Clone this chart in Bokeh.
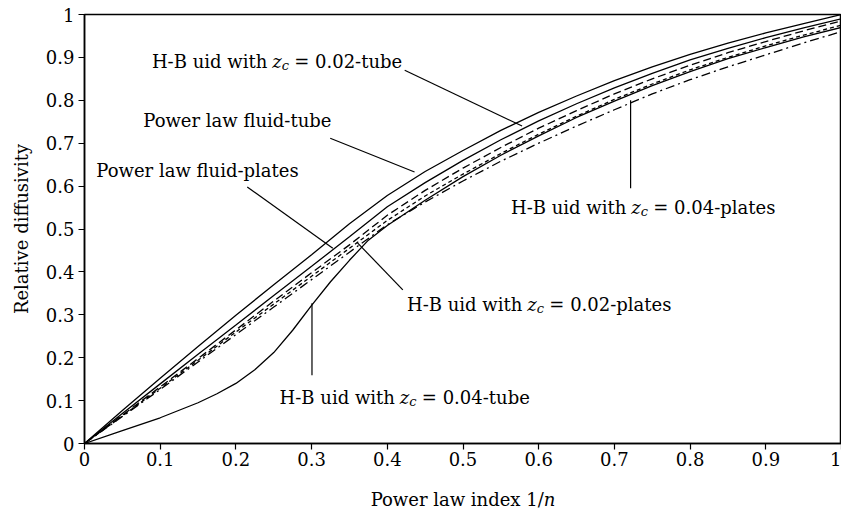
import math
from bokeh.plotting import figure
from bokeh.models import Range1d, FixedTicker, Label
from bokeh.embed import file_html
from bokeh.resources import INLINE

# ---------------- data ----------------
power_index = [0, .05, .1, .15, .2, .25, .3, .35, .4, .45, .5, .55, .6, .65, .7, .75, .8, .85, .9, .95, 1.0]

pl_tube = [0, .077, .152, .226, .299, .370, .440, .512, .578, .634, .683, .730, .772, .810, .846, .878, .907, .933, .957, .979, 1.0]
hb02_tube = [0, .070, .139, .208, .276, .345, .413, .482, .552, .608, .660, .708, .752, .792, .829, .863, .894, .921, .946, .969, .990]
pl_plates = [0, .066, .132, .198, .265, .332, .398, .463, .532, .590, .642, .690, .735, .776, .815, .850, .882, .911, .937, .962, .985]
hb02_plates = [0, .064, .129, .194, .260, .325, .390, .455, .520, .577, .628, .676, .721, .763, .802, .838, .871, .900, .927, .952, .975]
hb04_plates = [0, .063, .126, .190, .254, .318, .382, .446, .510, .563, .612, .658, .700, .740, .778, .815, .848, .878, .906, .934, .960]

# the S-shaped curve is read at a finer step
hb04_index = [0, .05, .1, .15, .175, .2, .225, .25, .275, .3, .325, .35, .375, .4, .45, .5, .55, .6, .65, .7, .75, .8, .85, .9, .95, 1.0]
hb04_tube = [0, .030, .060, .095, .116, .140, .172, .212, .264, .322, .377, .427, .474, .508, .567, .622, .672, .717, .760, .798, .834, .867, .897, .923, .948, .970]

tick_values = [0, .1, .2, .3, .4, .5, .6, .7, .8, .9, 1.0]
tick_labels = ["0", "0.1", "0.2", "0.3", "0.4", "0.5", "0.6", "0.7", "0.8", "0.9", "1"]

x_title = "Power law index 1/\U0001D45B"
y_title = "Relative diffusivity"

# annotation texts
plain_labels = ["Power law fluid-tube", "Power law fluid-plates"]
plain_label_x = [0.0776, 0.0156]
plain_label_y = [0.752, 0.636]

hb_suffix = ["= 0.02-tube", "= 0.02-plates", "= 0.04-plates", "= 0.04-tube"]
hb_anchor_x = [0.248, 0.585, 0.7223, 0.4166]
hb_anchor_y = [0.891, 0.325, 0.551, 0.108]

# leader lines (start, end)
leader_x0 = [0.423, 0.3246, 0.215, 0.360, 0.3005, 0.7214]
leader_y0 = [0.870, 0.7115, 0.598, 0.469, 0.327, 0.800]
leader_x1 = [0.578, 0.436, 0.328, 0.4205, 0.3005, 0.7214]
leader_y1 = [0.740, 0.633, 0.455, 0.358, 0.159, 0.595]

FONT = "DejaVu Serif"
FS = "18px"

p = figure(width=841, height=512, output_backend="svg", toolbar_location=None,
           x_range=Range1d(0, 1), y_range=Range1d(0, 1),
           min_border_left=84, min_border_right=0, min_border_top=14, min_border_bottom=69)
p.grid.visible = False
p.outline_line_color = "black"
p.outline_line_width = 1.5
p.background_fill_color = "white"
p.border_fill_color = "white"

for ax in (p.xaxis[0], p.yaxis[0]):
    ax.ticker = FixedTicker(ticks=tick_values)
    ax.major_label_overrides = {t: l for t, l in zip(tick_values, tick_labels)}
    ax.major_tick_out = 6
    ax.major_tick_in = 0
    ax.minor_tick_line_color = None
    ax.axis_line_width = 1.5
    ax.axis_line_color = "black"
    ax.major_tick_line_width = 1.2
    ax.major_tick_line_color = "black"
    ax.major_label_text_font = FONT
    ax.major_label_text_font_size = FS
    ax.major_label_text_color = "black"
    ax.axis_label_text_font = FONT
    ax.axis_label_text_font_size = FS
    ax.axis_label_text_font_style = "normal"
    ax.axis_label_text_color = "black"
p.xaxis[0].major_label_standoff = 2
p.yaxis[0].major_label_standoff = 4

p.yaxis[0].axis_label = y_title
p.yaxis[0].axis_label_standoff = 11
p.xaxis[0].axis_label = x_title
p.xaxis[0].axis_label_standoff = 20

lw = 1.3
p.line(power_index, pl_tube, line_color="black", line_width=lw)
p.line(power_index, hb02_tube, line_color="black", line_width=lw)
p.line(power_index, pl_plates, line_color="black", line_width=lw, line_dash="8 4")
p.line(power_index, hb02_plates, line_color="black", line_width=lw, line_dash="4 3")
p.line(hb04_index, hb04_tube, line_color="black", line_width=lw)
p.line(power_index, hb04_plates, line_color="black", line_width=lw, line_dash="9 4 2 4")

p.segment(x0=leader_x0, y0=leader_y0, x1=leader_x1, y1=leader_y1, line_color="black", line_width=1.2)

def lab(**kw):
    base = dict(text_font=FONT, text_font_size=FS, text_color="black", text_baseline="alphabetic")
    base.update(kw)
    p.add_layout(Label(**base))

for t, x, y in zip(plain_labels, plain_label_x, plain_label_y):
    lab(x=x, y=y, text=t, text_align="left")

for s, x, y in zip(hb_suffix, hb_anchor_x, hb_anchor_y):
    lab(x=x, y=y, text="H-B uid with", text_align="right", x_offset=-5)
    lab(x=x, y=y, text="z", text_align="left", text_font_style="italic")
    lab(x=x, y=y, text="c", text_align="left", text_font_style="italic", text_font_size="13px",
        x_offset=9.5, y_offset=-4)
    lab(x=x, y=y, text=s, text_align="left", x_offset=22)

open("out.html", "w").write(file_html(p, INLINE))
